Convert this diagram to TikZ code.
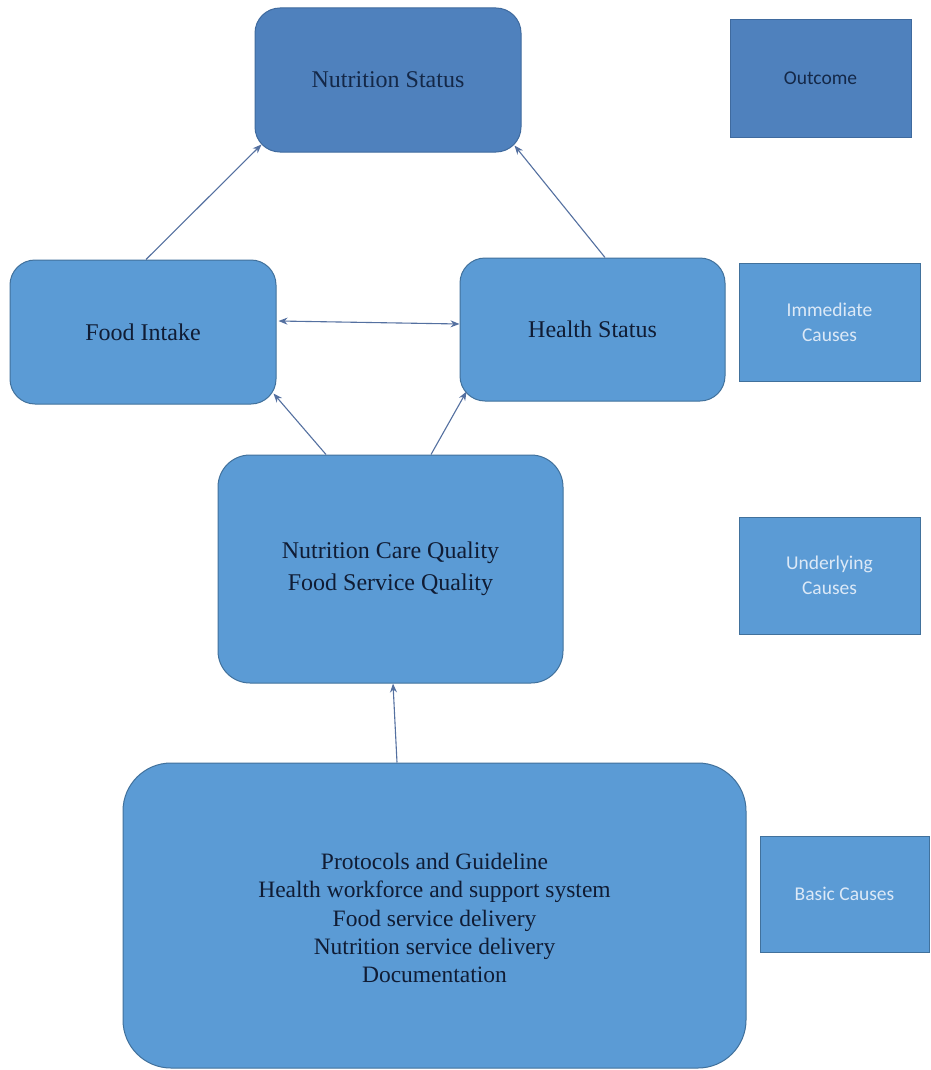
\documentclass[tikz,border=0pt]{standalone}
\usepackage{fontspec}
\setmainfont{Liberation Serif}
\newfontfamily\calibrifont{Carlito}
\usetikzlibrary{arrows.meta}
\definecolor{darkfill}{HTML}{4F81BD}
\definecolor{darkborder}{HTML}{3F6A9E}
\definecolor{lightfill}{HTML}{5B9BD5}
\definecolor{lightborder}{HTML}{41719C}
\definecolor{navytext}{HTML}{142848}
\definecolor{blacktext}{HTML}{101C34}
\definecolor{palelabel}{HTML}{DCE9F7}
\definecolor{arrowcol}{HTML}{5470A0}
\begin{document}
\begin{tikzpicture}[x=1pt,y=-1pt,
  mainbox/.style={draw=lightborder,fill=lightfill,line width=1pt,rounded corners=25pt,
    text=blacktext,align=center,inner sep=0pt,font=\fontsize{24}{32}\selectfont},
  topbox/.style={mainbox,draw=darkborder,fill=darkfill,text=navytext},
  sidebox/.style={draw=lightborder,fill=lightfill,line width=1pt,align=center,inner sep=0pt,
    text=palelabel,font=\calibrifont\fontsize{19.5}{25}\selectfont},
  sidetop/.style={sidebox,draw=darkborder,fill=darkfill,text=navytext},
  conn/.style={draw=arrowcol,line width=1.1pt,-{Stealth[length=9pt,width=7pt]}}
]
\useasboundingbox (0,0) rectangle (930,1070);
\fill[white] (0,0) rectangle (930,1070);

\node[topbox,minimum width=266pt,minimum height=144pt] (NS) at (388,80) {Nutrition Status};
\node[sidetop,minimum width=181pt,minimum height=117pt] (OUT) at (820.5,78.5) {Outcome};

\node[mainbox,minimum width=266pt,minimum height=144pt] (FI) at (143,332) {Food Intake};
\node[mainbox,minimum width=265pt,minimum height=143pt] (HS) at (592.5,329.5) {Health Status};
\node[sidebox,minimum width=181pt,minimum height=118pt] (IMM) at (829.5,322) {Immediate\\Causes};

\node[mainbox,rounded corners=32pt,minimum width=345pt,minimum height=228pt] (NCQ) at (390.5,569)
  {Nutrition Care Quality\\Food Service Quality};
\node[sidebox,minimum width=181pt,minimum height=117pt] (UND) at (829.5,575.5) {Underlying\\Causes};

\node[mainbox,rounded corners=48pt,minimum width=623pt,minimum height=305pt] (BAS) at (434.5,915.5) {};
\node[align=center,inner sep=0pt,text=blacktext,font=\fontsize{23.5}{28.3}\selectfont] (BT) at (434.5,918)
  {Protocols and Guideline\\Health workforce and support system\\Food service delivery\\Nutrition service delivery\\Documentation};
\node[sidebox,minimum width=169pt,minimum height=116pt] (BC) at (844.5,894) {Basic Causes};

\draw[conn] ([xshift=3pt]FI.north) -- ([xshift=7pt,yshift=8pt]NS.south west);
\draw[conn] ([xshift=12.5pt]HS.north) -- ([xshift=-7pt,yshift=7pt]NS.south east);
\draw[conn,{Stealth[length=9pt,width=7pt]}-{Stealth[length=9pt,width=7pt]}]
  ([xshift=2pt,yshift=11pt]FI.east) -- ([yshift=5.5pt]HS.west);
\draw[conn] ([xshift=-64.5pt]NCQ.north) -- ([xshift=-3pt,yshift=11pt]FI.south east);
\draw[conn] ([xshift=40.5pt]NCQ.north) -- ([xshift=7pt,yshift=10pt]HS.south west);
\draw[conn] ([xshift=-37.5pt]BAS.north) -- ([xshift=2.5pt]NCQ.south);
\end{tikzpicture}
\end{document}
